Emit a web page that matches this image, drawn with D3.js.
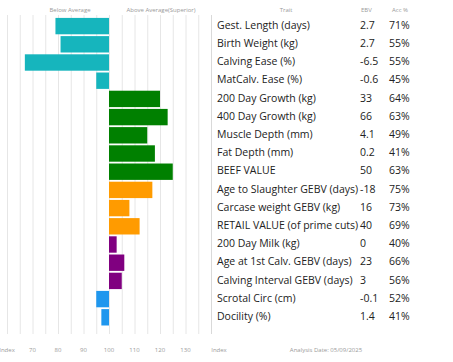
<!DOCTYPE html>
<html>
<head>
<meta charset="utf-8">
<script src="https://cdn.jsdelivr.net/npm/d3@7"></script>
<style>
  body { margin: 0; background: #fff; }
  svg { display: block; font-family: "Open Sans", sans-serif; }
  .grid line { stroke: #e6e6e6; stroke-width: 1; }
  .small { fill: #9a9a9a; font-size: 6px; }
  .trait { fill: #222; font-size: 10.5px; }
</style>
</head>
<body>
<svg id="chart" width="453" height="362"></svg>
<script>

// Trait rows
const traits = [
    "Gest. Length (days)", "Birth Weight (kg)", "Calving Ease (%)", "MatCalv. Ease (%)",
    "200 Day Growth (kg)", "400 Day Growth (kg)", "Muscle Depth (mm)", "Fat Depth (mm)",
    "BEEF VALUE", "Age to Slaughter GEBV (days)", "Carcase weight GEBV (kg)",
    "RETAIL VALUE (of prime cuts)", "200 Day Milk (kg)", "Age at 1st Calv. GEBV (days)",
    "Calving Interval GEBV (days)", "Scrotal Circ (cm)", "Docility (%)"
];
const ebvs = ["2.7", "2.7", "-6.5", "-0.6", "33", "66", "4.1", "0.2", "50", "-18", "16", "40", "0", "23", "3", "-0.1", "1.4"];
const accs = ["71%", "55%", "55%", "45%", "64%", "63%", "49%", "41%", "63%", "75%", "73%", "69%", "40%", "66%", "56%", "52%", "41%"];
const indexValues = [79, 81, 67, 95, 120, 123, 115, 118, 125, 117, 108, 112, 103, 106, 105, 95, 97];
const groups = ["calving", "calving", "calving", "calving", "growth", "growth", "growth", "growth", "growth",
                "carcase", "carcase", "carcase", "maternal", "maternal", "maternal", "other", "other"];

// Axis
const tickValues = [70, 80, 90, 100, 110, 120, 130];
const gridValues = d3.range(60, 141, 5);

const groupColours = {
    calving: "#16b5bd",
    growth: "#008000",
    carcase: "#ff9b00",
    maternal: "#800080",
    other: "#1f97ee"
};

const svg = d3.select("#chart");

// Scales
const x = d3.scaleLinear().domain([60, 140]).range([7, 211]);
const y = d3.scaleBand()
    .domain(traits)
    .range([17, 17 + traits.length * 18.2])
    .paddingInner(0.1)
    .paddingOuter(0.05);

const gridTop = 15, gridBottom = 334;

// Grid lines
svg.append("g")
    .classed("grid", true)
    .selectAll("line")
    .data(gridValues)
    .enter()
    .append("line")
    .attr("x1", (d) => x(d) + 0.5)
    .attr("x2", (d) => x(d) + 0.5)
    .attr("y1", gridTop)
    .attr("y2", gridBottom)
    .style("stroke", (d) => d === 140 ? "#d9d9d9" : null);

// Bars
svg.append("g")
    .selectAll("rect")
    .data(traits)
    .enter()
    .append("rect")
    .attr("x", (d, i) => x(Math.min(100, indexValues[i])))
    .attr("width", (d, i) => Math.abs(x(indexValues[i]) - x(100)))
    .attr("y", (d) => y(d))
    .attr("height", y.bandwidth())
    .style("fill", (d, i) => groupColours[groups[i]]);

// Headers
svg.append("text").classed("small", true).attr("x", 70).attr("y", 12).style("text-anchor", "middle").text("Below Average");
svg.append("text").classed("small", true).attr("x", 161).attr("y", 12).style("text-anchor", "middle").text("Above Average(Superior)");
svg.append("text").classed("small", true).attr("x", 286).attr("y", 12).style("text-anchor", "middle").text("Trait");
svg.append("text").classed("small", true).attr("x", 361).attr("y", 12).text("EBV");
svg.append("text").classed("small", true).attr("x", 392).attr("y", 12).text("Acc %");

// Table rows
const rows = svg.append("g")
    .selectAll("g")
    .data(traits)
    .enter()
    .append("g")
    .attr("transform", (d) => `translate(0,${y(d) + y.bandwidth() / 2 - 1})`);
rows.append("text").classed("trait", true).attr("x", 217).attr("dy", "0.35em").text((d) => d);
rows.append("text").classed("trait", true).attr("x", 360).attr("dy", "0.35em").text((d, i) => ebvs[i]);
rows.append("text").classed("trait", true).attr("x", 389).attr("dy", "0.35em").text((d, i) => accs[i]);

// Axis labels
svg.append("g")
    .selectAll("text")
    .data(tickValues)
    .enter()
    .append("text")
    .classed("small", true)
    .attr("x", (d) => x(d))
    .attr("y", 352)
    .style("text-anchor", "middle")
    .text((d) => d);
svg.append("text").classed("small", true).attr("x", x(60)).attr("y", 352).style("text-anchor", "middle").text("Index");
svg.append("text").classed("small", true).attr("x", x(140) + 8).attr("y", 352).style("text-anchor", "middle").text("Index");
svg.append("text").classed("small", true).attr("x", 326).attr("y", 352).style("text-anchor", "middle").text("Analysis Date: 05/09/2025");

</script>
</body>
</html>
